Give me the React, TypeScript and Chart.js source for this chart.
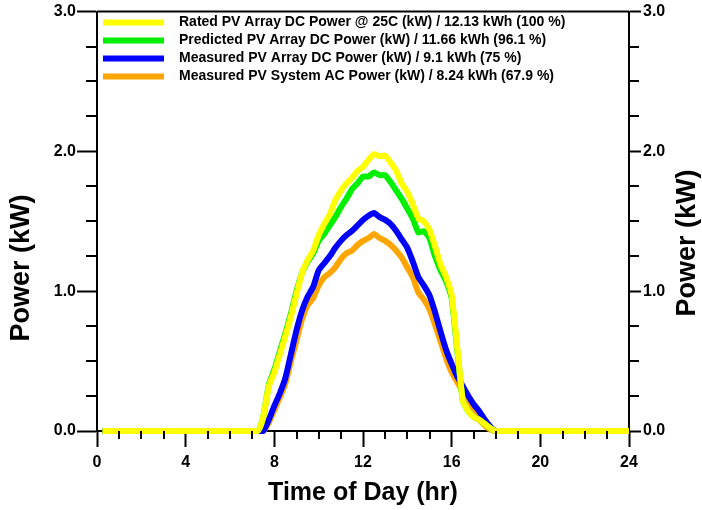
import React, { useEffect, useRef } from "react";
import { Chart, registerables } from "chart.js";

Chart.register(...registerables);

const FONT = "'Liberation Sans', Arial, Helvetica, sans-serif";

// Time of day (hr)
const hours = [
  0.25, 7.25, 7.5, 7.75, 8, 8.25, 8.5, 8.75, 9, 9.25, 9.5, 9.75, 10, 10.25, 10.5, 10.75,
  11, 11.25, 11.5, 11.75, 12, 12.25, 12.5, 12.75, 13, 13.25, 13.5, 13.75, 14, 14.25, 14.5,
  14.75, 15, 15.25, 15.5, 15.75, 16, 16.25, 16.5, 16.75, 17, 17.25, 17.5, 17.75, 18, 24,
];

// Rated PV Array DC Power @ 25C (kW)
const ratedDC = [
  0, 0, 0.1, 0.32, 0.42, 0.55, 0.68, 0.82, 0.98, 1.13, 1.22, 1.29, 1.4, 1.48, 1.55, 1.65,
  1.72, 1.77, 1.81, 1.86, 1.89, 1.94, 1.98, 1.965, 1.97, 1.92, 1.86, 1.77, 1.71, 1.62, 1.52,
  1.5, 1.44, 1.32, 1.19, 1.1, 0.97, 0.6, 0.22, 0.14, 0.1, 0.08, 0.05, 0.02, 0, 0,
];

// Predicted PV Array DC Power (kW)
const predictedDC = [
  0, 0, 0.1, 0.33, 0.44, 0.57, 0.7, 0.84, 1.0, 1.13, 1.21, 1.27, 1.36, 1.41, 1.47, 1.53,
  1.6, 1.66, 1.73, 1.77, 1.82, 1.82, 1.85, 1.83, 1.83, 1.78, 1.72, 1.66, 1.59, 1.52, 1.42,
  1.43, 1.38, 1.25, 1.15, 1.07, 0.95, 0.58, 0.22, 0.14, 0.1, 0.08, 0.05, 0.02, 0, 0,
];

// Measured PV Array DC Power (kW)
const measuredDC = [
  0, 0, 0, 0.08, 0.18, 0.27, 0.38, 0.55, 0.72, 0.86, 0.96, 1.03, 1.15, 1.2, 1.25, 1.31,
  1.36, 1.4, 1.43, 1.47, 1.51, 1.54, 1.56, 1.53, 1.51, 1.48, 1.43, 1.37, 1.31, 1.21, 1.1,
  1.04, 0.97, 0.85, 0.71, 0.58, 0.48, 0.39, 0.32, 0.25, 0.19, 0.14, 0.08, 0.03, 0, 0,
];

// Measured PV System AC Power (kW)
const measuredAC = [
  0, 0, 0, 0.06, 0.15, 0.24, 0.34, 0.5, 0.65, 0.8, 0.9, 0.95, 1.04, 1.1, 1.13, 1.17,
  1.23, 1.27, 1.29, 1.33, 1.36, 1.38, 1.41, 1.38, 1.36, 1.33, 1.29, 1.24, 1.17, 1.1, 0.99,
  0.94, 0.87, 0.76, 0.64, 0.52, 0.42, 0.35, 0.28, 0.2, 0.14, 0.08, 0.04, 0.01, 0, 0,
];

const seriesLabels = [
  "Rated PV Array DC Power @ 25C (kW) / 12.13 kWh (100 %)",
  "Predicted PV Array DC Power (kW) / 11.66 kWh (96.1 %)",
  "Measured PV Array DC Power (kW) / 9.1 kWh (75 %)",
  "Measured PV System AC Power (kW) / 8.24 kWh (67.9 %)",
];
const seriesColors = ["#ffff00", "#00f000", "#0000ff", "#ffa500"];
const seriesValues = [ratedDC, predictedDC, measuredDC, measuredAC];

const xTitle = "Time of Day (hr)";
const yTitle = "Power (kW)";

const decorPlugin = {
  id: "decor",
  afterDraw(chart: any) {
    const { ctx, chartArea: ca, scales } = chart;
    const xs = scales.x;
    const ys = scales.y;
    ctx.save();
    ctx.strokeStyle = "#000";
    ctx.lineWidth = 2;
    // top frame line
    ctx.beginPath();
    ctx.moveTo(ca.left, ca.top);
    ctx.lineTo(ca.right, ca.top);
    ctx.stroke();
    // minor y ticks (left & right, outward)
    ctx.beginPath();
    for (let i = 1; i < 12; i++) {
      if (i % 4 === 0) continue;
      const py = Math.round(ys.getPixelForValue(i * 0.25));
      ctx.moveTo(ca.left - 11, py);
      ctx.lineTo(ca.left, py);
      ctx.moveTo(ca.right, py);
      ctx.lineTo(ca.right + 10, py);
    }
    // minor x ticks (downward)
    for (let h = 1; h < 24; h++) {
      if (h % 4 === 0) continue;
      const px = Math.round(xs.getPixelForValue(h));
      ctx.moveTo(px, ca.bottom);
      ctx.lineTo(px, ca.bottom + 8);
    }
    ctx.stroke();

    // legend inside plot area
    ctx.font = `bold 14px ${FONT}`;
    ctx.textBaseline = "middle";
    ctx.textAlign = "left";
    ctx.fillStyle = "#000";
    seriesLabels.forEach((lab, i) => {
      const ry = ca.top + 11 + i * 18;
      ctx.strokeStyle = seriesColors[i];
      ctx.lineWidth = 6;
      ctx.beginPath();
      ctx.moveTo(ca.left + 6, ry);
      ctx.lineTo(ca.left + 67, ry);
      ctx.stroke();
      ctx.fillText(lab, ca.left + 82, ry);
    });

    // y axis titles (both read bottom to top)
    const drawYTitle = (cx: number, cy: number) => {
      ctx.save();
      ctx.translate(cx, cy);
      ctx.rotate(-Math.PI / 2);
      ctx.font = `bold 27px ${FONT}`;
      ctx.textAlign = "center";
      ctx.textBaseline = "middle";
      ctx.fillStyle = "#000";
      ctx.fillText(yTitle, 0, 0);
      ctx.restore();
    };
    drawYTitle(22, 268);
    drawYTitle(688, 243);
    ctx.restore();
  },
};

export default function App() {
  const ref = useRef<HTMLCanvasElement | null>(null);
  useEffect(() => {
    if (!ref.current) return;
    const tickFont = { family: FONT, size: 16, weight: "bold" as const };
    const chart = new Chart(ref.current, {
      type: "line",
      data: {
        datasets: seriesValues.map((vals, i) => ({
          label: seriesLabels[i],
          data: hours.map((h, j) => ({ x: h, y: vals[j] })),
          borderColor: seriesColors[i],
          backgroundColor: seriesColors[i],
          borderWidth: 6,
          pointRadius: 0,
          tension: 0.15,
          borderJoinStyle: "round" as const,
          clip: false as any,
          fill: false,
        })),
      },
      options: {
        animation: false,
        responsive: true,
        maintainAspectRatio: false,
        layout: { padding: { top: 10, left: 0, right: 0, bottom: 0 } },
        plugins: {
          legend: { display: false },
          tooltip: { enabled: false },
        },
        scales: {
          x: {
            type: "linear",
            position: "bottom",
            min: 0,
            max: 24,
            z: 1,
            ticks: { stepSize: 4, font: tickFont, color: "#000", padding: 6, maxRotation: 0 },
            grid: { drawOnChartArea: false, drawTicks: true, tickLength: 16, tickColor: "#000", tickWidth: 2 },
            border: { display: true, color: "#000", width: 2 },
            title: {
              display: true,
              text: xTitle,
              color: "#000",
              font: { family: FONT, size: 25, weight: "bold" },
              padding: { top: 0, bottom: 2 },
            },
            afterFit: (s: any) => {
              s.height = 79;
            },
          },
          y: {
            type: "linear",
            position: "left",
            min: 0,
            max: 3,
            z: 1,
            ticks: { stepSize: 1, font: tickFont, color: "#000", padding: 1, callback: (v: any) => Number(v).toFixed(1) },
            grid: { drawOnChartArea: false, drawTicks: true, tickLength: 20, tickColor: "#000", tickWidth: 2 },
            border: { display: true, color: "#000", width: 2 },
            afterFit: (s: any) => {
              s.width = 97;
            },
          },
          y2: {
            type: "linear",
            position: "right",
            min: 0,
            max: 3,
            z: 1,
            ticks: { stepSize: 1, font: tickFont, color: "#000", padding: 2, callback: (v: any) => Number(v).toFixed(1) },
            grid: { drawOnChartArea: false, drawTicks: true, tickLength: 12, tickColor: "#000", tickWidth: 2 },
            border: { display: true, color: "#000", width: 2 },
            afterFit: (s: any) => {
              s.width = 73;
            },
          },
        },
      },
      plugins: [decorPlugin],
    });
    return () => chart.destroy();
  }, []);

  return (
    <div style={{ position: "fixed", left: 0, top: 0, width: 702, height: 510, background: "#fff" }}>
      <canvas ref={ref} />
    </div>
  );
}
